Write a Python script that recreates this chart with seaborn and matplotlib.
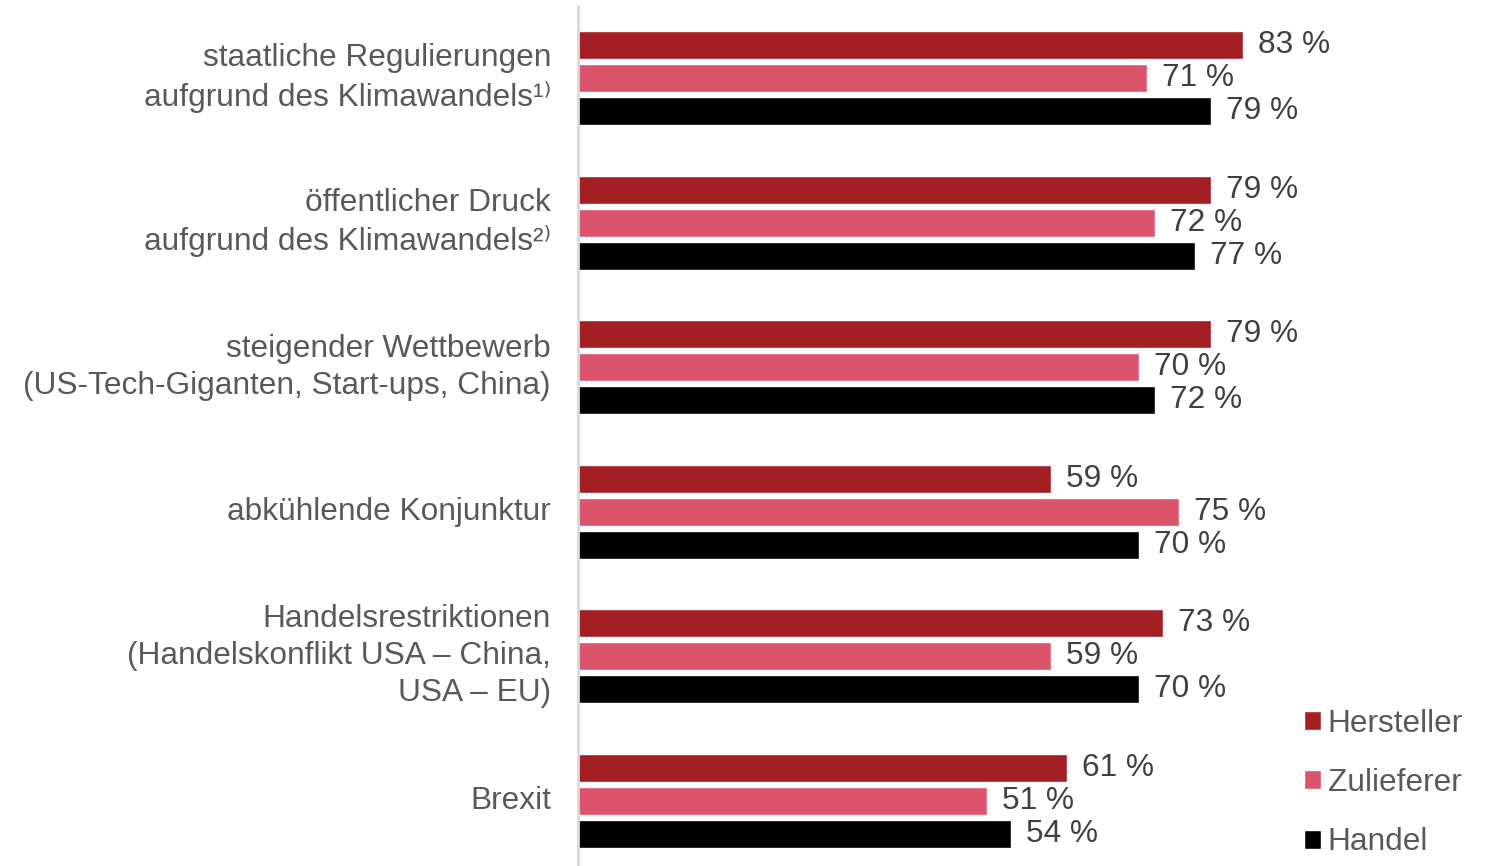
import matplotlib
matplotlib.use("Agg")
import matplotlib.pyplot as plt
import seaborn as sns
import pandas as pd

categories = [
    "staatliche Regulierungen\naufgrund des Klimawandels¹⁾",
    "öffentlicher Druck\naufgrund des Klimawandels²⁾",
    "steigender Wettbewerb\n(US-Tech-Giganten, Start-ups, China)",
    "abkühlende Konjunktur",
    "Handelsrestriktionen\n(Handelskonflikt USA – China,\nUSA – EU)",
    "Brexit",
]
series = ["Hersteller", "Zulieferer", "Handel"]
hersteller = [83, 79, 79, 59, 73, 61]
zulieferer = [71, 72, 70, 75, 59, 51]
handel = [79, 77, 72, 70, 70, 54]
colors = ["#A31F23", "#DC546B", "#000000"]

rows = []
for s, vals in zip(series, [hersteller, zulieferer, handel]):
    for c, v in zip(categories, vals):
        rows.append({"Kategorie": c, "Gruppe": s, "Wert": v})
df = pd.DataFrame(rows)

sns.set_theme(style="white")
plt.rcParams["font.family"] = ["Liberation Sans", "DejaVu Sans"]

fig = plt.figure(figsize=(14.91, 8.66), dpi=100)
ax = fig.add_axes([578 / 1491, 0.0, 1 - 578 / 1491, 1 - 6 / 866])

sns.barplot(data=df, y="Kategorie", x="Wert", hue="Gruppe", order=categories,
            hue_order=series, palette=colors, orient="h", width=0.685, gap=0.15,
            saturation=1, ax=ax, legend=True)

FS = 22.8
label_color = "#595959"
value_color = "#404040"
for cont in ax.containers:
    ax.bar_label(cont, labels=[f"{v:.0f} %" for v in cont.datavalues],
                 padding=11, fontsize=FS, color=value_color)

ax.set_xlim(0, 913 / 8.01)
ax.set_ylim(5.45, -0.498)
ax.set_xlabel("")
ax.set_ylabel("")
ax.set_xticks([])
ax.tick_params(axis="y", length=0, pad=19.5, labelsize=FS, labelcolor=label_color)
for lab in ax.get_yticklabels():
    lab.set_linespacing(1.3)
    lab.set_verticalalignment("center")

for sp in ["top", "right", "bottom"]:
    ax.spines[sp].set_visible(False)
ax.spines["left"].set_color("#D9D9D9")
ax.spines["left"].set_linewidth(2)

leg = ax.legend(title=None, frameon=False, loc="lower left",
                bbox_to_anchor=((1304 - 578) / 913, 0.01), fontsize=FS,
                handlelength=0.55, handleheight=0.55, handletextpad=0.2,
                labelspacing=0.93, borderaxespad=0, borderpad=0)
for t in leg.get_texts():
    t.set_color(label_color)

fig.savefig("out.png", dpi=100)
